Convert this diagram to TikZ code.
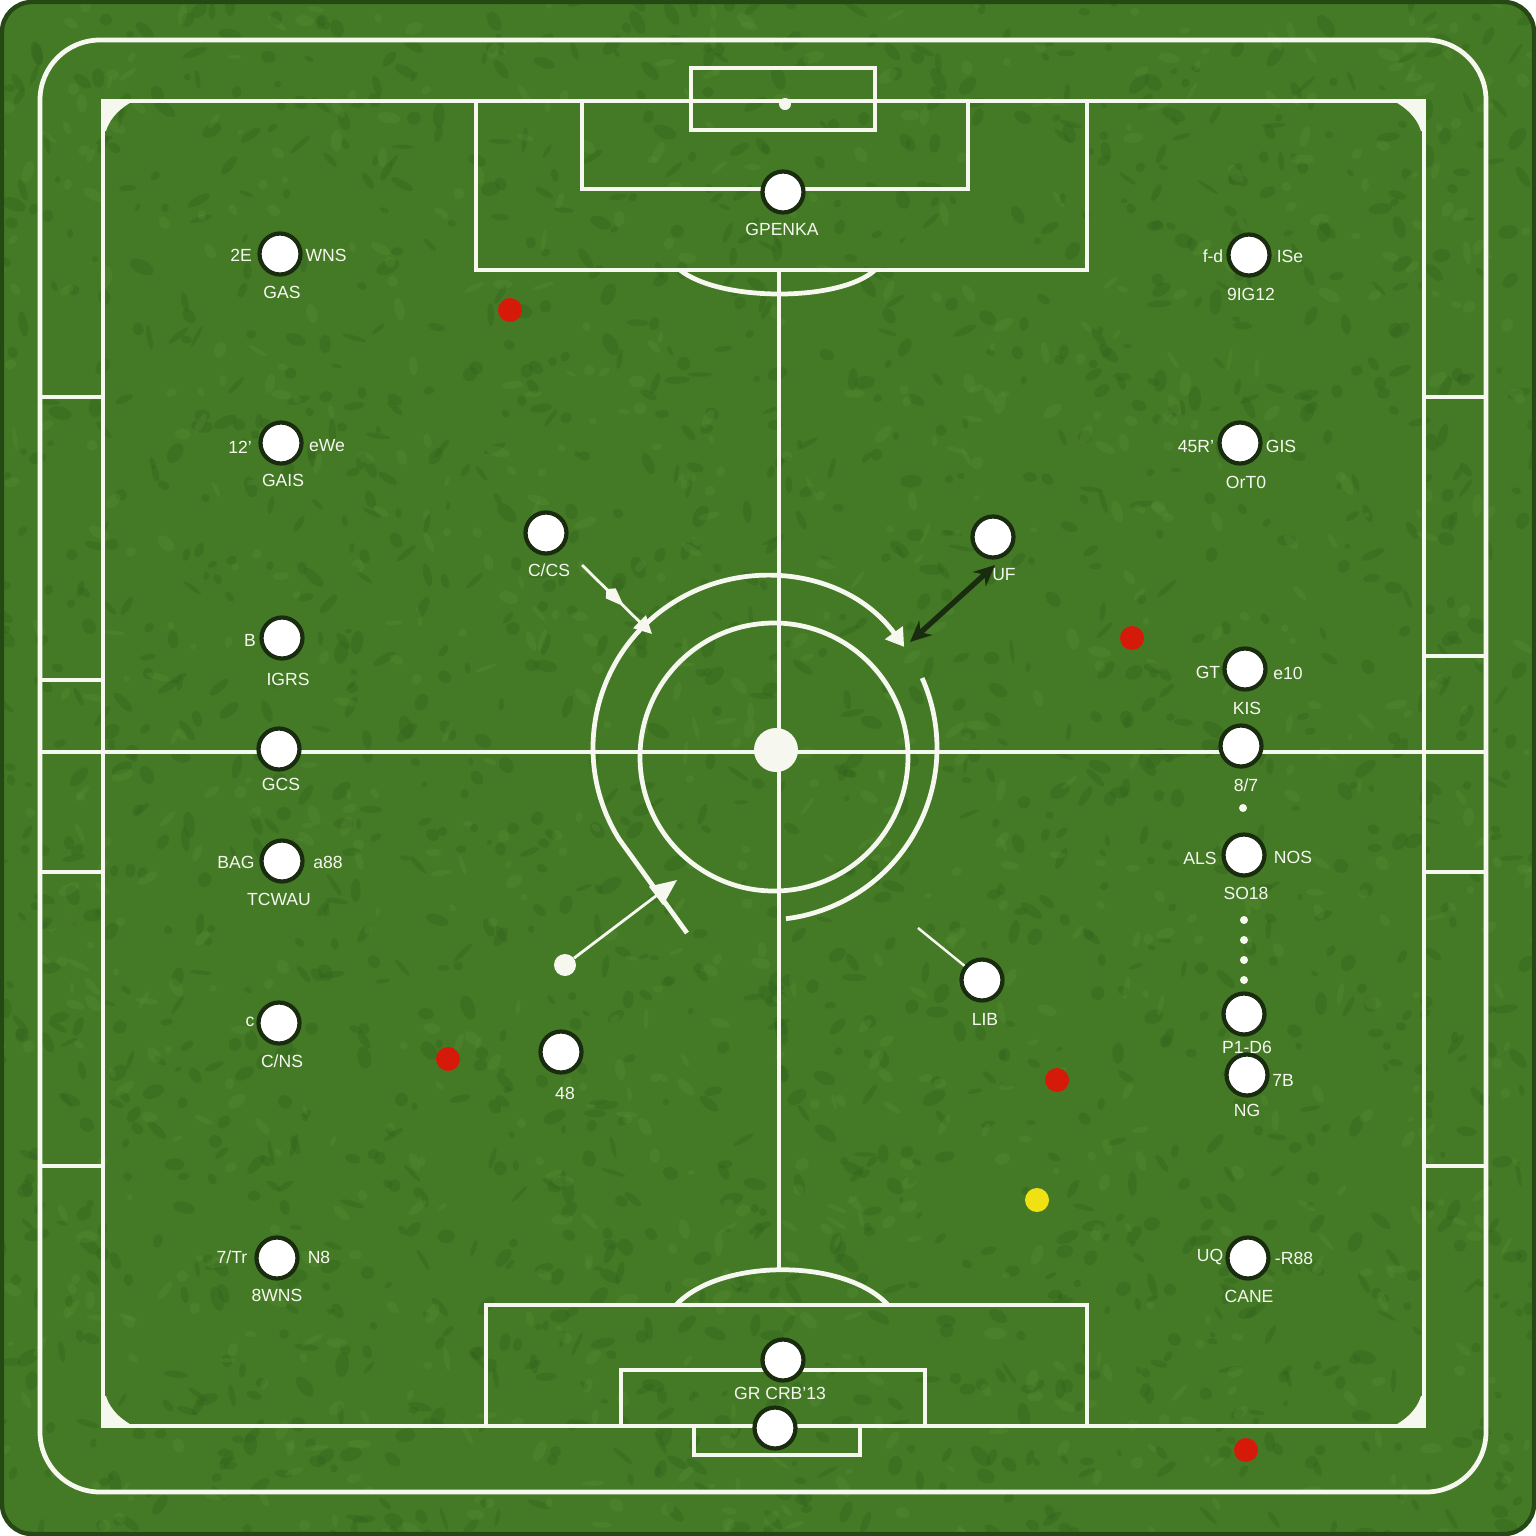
\documentclass[tikz,border=0pt]{standalone}
\usepackage{fontspec}
\setmainfont{Liberation Sans}
\usetikzlibrary{arrows.meta,decorations.markings}
\definecolor{grass}{RGB}{68,122,38}
\definecolor{grassdk}{RGB}{46,92,24}
\definecolor{grasslt}{RGB}{88,142,52}
\definecolor{rim}{RGB}{38,72,20}
\definecolor{chalk}{RGB}{246,248,240}
\definecolor{ink}{RGB}{26,44,16}
\definecolor{redball}{RGB}{214,26,10}
\definecolor{yelball}{RGB}{240,226,18}
\begin{document}
\begin{tikzpicture}[x=0.02cm,y=-0.02cm,
  fieldline/.style={draw=chalk,line width=2.7pt},
  player/.style={circle,fill=white,draw=ink,line width=2.4pt,minimum size=0.82cm,inner sep=0pt},
  lbl/.style={text=chalk,font=\fontsize{10}{12}\selectfont,inner sep=0pt},
  redb/.style={circle,fill=redball,minimum size=0.48cm,inner sep=0pt},
  yelb/.style={circle,fill=yelball,minimum size=0.48cm,inner sep=0pt},
  chalkdot/.style={circle,fill=chalk,inner sep=0pt,minimum size=#1},
  chalkdot/.default=0.16cm]
\useasboundingbox (0,0) rectangle (1536,1536);
\fill[white] (0,0) rectangle (1536,1536);
% turf
\fill[grass,rounded corners=0.6cm] (2,2) rectangle (1534,1534);
\begin{scope}
\clip[rounded corners=0.6cm] (2,2) rectangle (1534,1534);
\pgfmathsetseed{42}
\foreach \i in {1,...,1800}{
  \fill[grassdk,opacity=0.28,shift={(rnd*1536,rnd*1536)},rotate=rnd*180] (0,0) ellipse ({3+rnd*10} and {2+rnd*5});
}
\foreach \i in {1,...,900}{
  \fill[grasslt,opacity=0.3,shift={(rnd*1536,rnd*1536)},rotate=rnd*180] (0,0) ellipse ({3+rnd*9} and {2+rnd*4});
}
\end{scope}
\draw[rim,line width=2.5pt,rounded corners=0.6cm] (2,2) rectangle (1534,1534);

% outer boundary line
\draw[fieldline,rounded corners=1.2cm] (40,40) rectangle (1486,1492);
% inner field
\draw[fieldline] (103,101) rectangle (1424,1426);
\foreach \cx/\cy/\sx/\sy in {103/101/1/1,1424/101/-1/1,103/1426/1/-1,1424/1426/-1/-1}{
  \fill[chalk,shift={(\cx,\cy)},xscale=\sx,yscale=\sy] (0,0) -- (30,0) .. controls (20,6) and (8,14) .. (3,30) -- (0,30) -- cycle;
}
% side marks
\foreach \yy in {397,680,872,1166}{ \draw[fieldline] (40,\yy) -- (103,\yy); }
\foreach \yy in {397,656,872,1166}{ \draw[fieldline] (1424,\yy) -- (1486,\yy); }
% halfway lines
\draw[fieldline] (40,752) -- (1486,752);
\draw[fieldline] (779,270) -- (779,1268);
% top end
\draw[fieldline] (476,101) rectangle (1087,270);
\draw[fieldline] (582,101) rectangle (968,189);
\draw[fieldline] (691,68) rectangle (875,130);
\fill[chalk] (785,104) circle (6);
\draw[fieldline] (680,270) .. controls (720,302) and (840,302) .. (875,270);
% bottom end
\draw[fieldline] (486,1305) rectangle (1087,1426);
\draw[fieldline] (621,1370) rectangle (925,1426);
\draw[fieldline] (694,1426) rectangle (860,1455);
\draw[fieldline] (676,1305) .. controls (720,1258) and (845,1258) .. (888,1305);
% centre
\draw[fieldline] (774,757) circle (134);
\node[chalkdot=0.88cm] (cspot) at (776,750) {};
\draw[fieldline,shift={(765,748)}] (83:172) arc[start angle=83,end angle=-24,radius=172];
\draw[fieldline,shift={(765,748)},{Triangle[width=12pt,length=10pt]}-] (-36:172) arc[start angle=-36,end angle=-212,radius=172] -- (-78,185);

% players
\node[player] (p1) at (783,192) {};
\node[player] (p2) at (280,254) {};
\node[player] (p3) at (281,443) {};
\node[player] (p4) at (546,533) {};
\node[player] (p5) at (993,537) {};
\node[player] (p6) at (282,638) {};
\node[player] (p7) at (279,749) {};
\node[player] (p8) at (282,861) {};
\node[player] (p9) at (279,1023) {};
\node[player] (p10) at (561,1052) {};
\node[player] (p11) at (277,1258) {};
\node[player] (p12) at (1249,255) {};
\node[player] (p13) at (1240,443) {};
\node[player] (p14) at (1245,669) {};
\node[player] (p15) at (1241,746) {};
\node[player] (p16) at (1244,855) {};
\node[player] (p17) at (982,980) {};
\node[player] (p18) at (1244,1014) {};
\node[player] (p19) at (1247,1075) {};
\node[player] (p20) at (1248,1258) {};
\node[player] (p21) at (783,1360) {};
\node[player] (p22) at (775,1428) {};

% small dots
\node[chalkdot] (d1) at (1243,808) {};
\node[chalkdot] (d2) at (1244,920) {};
\node[chalkdot] (d3) at (1244,940) {};
\node[chalkdot] (d4) at (1244,960) {};
\node[chalkdot] (d5) at (1244,980) {};
\node[chalkdot=0.44cm] (kick) at (565,965) {};

% balls
\node[redb] (r1) at (510,310) {};
\node[redb] (r2) at (1132,638) {};
\node[redb] (r3) at (448,1059) {};
\node[redb] (r4) at (1057,1080) {};
\node[redb] (r5) at (1246,1450) {};
\node[yelb] (y1) at (1037,1200) {};

% labels
\node[lbl] (l1) at (782,229) {GPENKA};
\node[lbl] (l2a) at (241,255) {2E};
\node[lbl] (l2b) at (326,255) {WNS};
\node[lbl] (l2c) at (282,292) {GAS};
\node[lbl] (l3a) at (240,447) {12'};
\node[lbl] (l3b) at (327,446) {eWe};
\node[lbl] (l3c) at (283,480) {GAIS};
\node[lbl] (l4) at (549,570) {C/CS};
\node[lbl] (l5) at (1004,575) {UF};
\node[lbl] (l6a) at (250,640) {B};
\node[lbl] (l6b) at (288,679) {IGRS};
\node[lbl] (l7) at (281,784) {GCS};
\node[lbl] (l8a) at (236,862) {BAG};
\node[lbl] (l8b) at (328,862) {a88};
\node[lbl] (l8c) at (279,899) {TCWAU};
\node[lbl] (l9a) at (250,1022) {c};
\node[lbl] (l9b) at (282,1061) {C/NS};
\node[lbl] (l10) at (565,1093) {48};
\node[lbl] (l11a) at (232,1257) {7/Tr};
\node[lbl] (l11b) at (319,1257) {N8};
\node[lbl] (l11c) at (277,1295) {8WNS};
\node[lbl] (l12a) at (1213,256) {f-d};
\node[lbl] (l12b) at (1290,256) {ISe};
\node[lbl] (l12c) at (1251,294) {9IG12};
\node[lbl] (l13a) at (1196,447) {45R'};
\node[lbl] (l13b) at (1281,446) {GIS};
\node[lbl] (l13c) at (1246,482) {OrT0};
\node[lbl] (l14a) at (1208,672) {GT};
\node[lbl] (l14b) at (1288,673) {e10};
\node[lbl] (l14c) at (1247,708) {KIS};
\node[lbl] (l15) at (1246,785) {8/7};
\node[lbl] (l16a) at (1200,858) {ALS};
\node[lbl] (l16b) at (1293,857) {NOS};
\node[lbl] (l16c) at (1246,893) {SO18};
\node[lbl] (l17) at (985,1019) {LIB};
\node[lbl] (l18) at (1247,1047) {P1-D6};
\node[lbl] (l19a) at (1283,1080) {7B};
\node[lbl] (l19b) at (1247,1110) {NG};
\node[lbl] (l20a) at (1210,1257) {UQ};
\node[lbl] (l20b) at (1294,1258) {-R88};
\node[lbl] (l20c) at (1249,1296) {CANE};
\node[lbl] (l21) at (780,1393) {GR CRB'13};

% connectors
\coordinate (a1s) at (582,565);
\coordinate (a1e) at (652,634);
\draw[chalk,line width=1.6pt,-{Triangle[width=10pt,length=10pt]},
  decoration={markings,mark=at position 0.6 with {\arrow{Kite[width=8pt,length=14pt]}}},postaction=decorate] (a1s) -- (a1e);
\coordinate (a2s) at (910,642);
\coordinate (a2e) at (995,565);
\draw[ink,line width=3pt,{Stealth[length=12pt,width=11pt]}-{Stealth[length=12pt,width=11pt]}] (a2s) -- (a2e);
\coordinate (a3e) at (677,880);
\draw[chalk,line width=1.6pt,-{Triangle[width=13pt,length=15pt]}] (kick) -- (a3e);
\coordinate (a4s) at (918,928);
\draw[chalk,line width=1.4pt] (a4s) -- (p17);
\end{tikzpicture}
\end{document}
